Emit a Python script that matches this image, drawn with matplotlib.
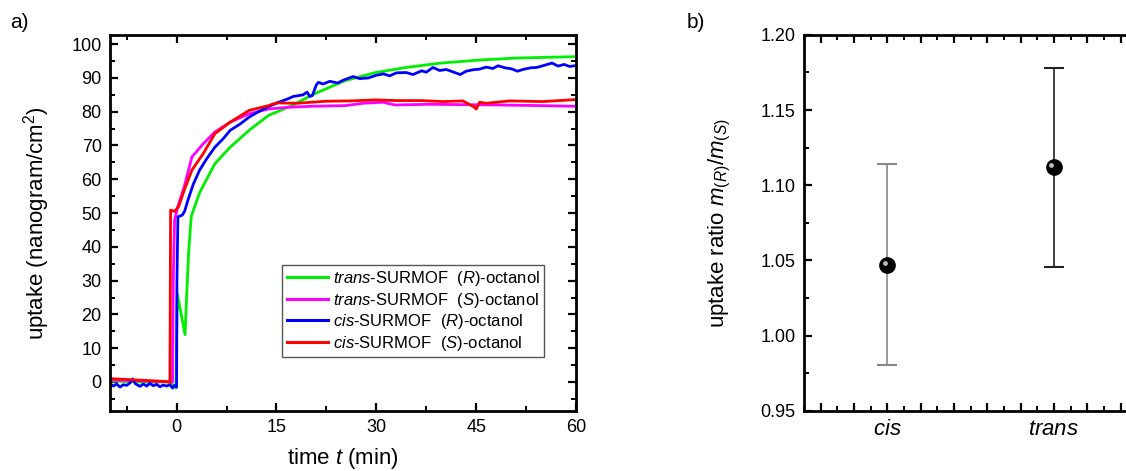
import matplotlib
matplotlib.use("Agg")
import matplotlib.pyplot as plt
import matplotlib.transforms as mtransforms
from matplotlib.ticker import MultipleLocator, FixedLocator, FixedFormatter

plt.rcParams['font.family'] = ['Liberation Sans', 'DejaVu Sans']
plt.rcParams['mathtext.fontset'] = 'custom'
plt.rcParams['mathtext.rm'] = 'Liberation Sans'
plt.rcParams['mathtext.it'] = 'Liberation Sans:italic'
plt.rcParams['mathtext.bf'] = 'Liberation Sans:bold'

# ---------------- data: panel a ----------------
labels_a = [r'$\mathit{trans}$-SURMOF  ($\mathit{R}$)-octanol',
            r'$\mathit{trans}$-SURMOF  ($\mathit{S}$)-octanol',
            r'$\mathit{cis}$-SURMOF  ($\mathit{R}$)-octanol',
            r'$\mathit{cis}$-SURMOF  ($\mathit{S}$)-octanol']
colors_a = ['#00ee00', '#ff00ff', '#0000ff', '#ff0000']

t_trans_R = [-10, -5, -1, -0.1, 0.1, 0.7, 1.27, 1.5, 1.8, 2.2, 3.45, 5.75, 8.05, 10.9,
             13.8, 17.3, 20.7, 25.3, 29.9, 34.5, 39.7, 45.5, 51.2, 60]
v_trans_R = [0.3, 0.0, 0.0, -1.8, 26, 20, 14.0, 25, 38, 49, 56, 64.6, 69.5, 74.5,
             78.9, 81.8, 85.3, 89.2, 91.6, 93.1, 94.4, 95.3, 95.9, 96.3]

t_trans_S = [-10, -6, -2, -0.6, -0.5, -0.3, 0.2, 1.15, 2.3, 4.0, 5.75, 8.05, 10.9, 13.8,
             16.7, 20, 25.3, 28, 31, 32.8, 38, 42.6, 48, 55, 60]
v_trans_S = [0.6, 0.4, 0.1, 0.0, 30, 48, 52, 57.8, 66.6, 70.5, 74, 76.9, 79.4, 80.8,
             81.3, 81.6, 81.8, 82.5, 82.8, 82.0, 82.2, 82.1, 82.0, 81.8, 81.6]

t_cis_R = [-10, -9.5, -9, -8.5, -8, -7.5, -7, -6.6, -6.2, -5.5, -5, -4.5, -4, -3.5, -3,
           -2.5, -2, -1.5, -1, -0.6, -0.3, 0.0, 0.05, 0.2, 0.86, 1.2, 1.7, 2.5, 3.45,
           4.5, 5.75, 7, 8.05, 9.5, 10.9, 12.3, 13.8, 15.2, 16.7, 17.5, 18.4, 19, 19.6,
           20.0, 20.4, 21.0, 21.3, 22, 23, 24.2, 25, 26.5, 27.5, 28.8, 30, 31.1, 32, 33,
           34.5, 35.5, 36.8, 37.5, 38.5, 39.5, 40.5, 41.5, 42.6, 43.5, 44.5, 45.5, 46.5,
           47.5, 48.3, 49.3, 50.3, 51.2, 52.2, 53.2, 54.1, 55, 56.4, 57.3, 58.2, 59, 59.8]
v_cis_R = [-0.5, -1.2, -0.6, -1.5, -0.8, -1.0, -0.3, 0.9, -0.5, -1.3, -0.6, -1.2, -0.4,
           -1.1, -0.7, -1.4, -0.9, -1.2, -0.8, -1.8, -1.0, -1.5, 30, 48.9, 49.4, 50.5,
           53.8, 58.5, 62.7, 66, 69.5, 72, 74.5, 76.3, 78.4, 80, 81.5, 82.7, 83.8, 84.5,
           84.8, 85.0, 85.8, 84.5, 84.8, 88.0, 88.7, 88.2, 89.0, 88.5, 89.3, 90.4, 89.8,
           90.0, 90.8, 91.2, 90.6, 91.5, 91.6, 91.0, 92.1, 91.7, 93.1, 92.2, 92.5, 91.8,
           91.0, 92.0, 92.4, 92.6, 93.2, 92.8, 93.6, 93.0, 92.7, 92.0, 92.6, 93.0, 93.1,
           93.6, 94.4, 93.5, 94.0, 93.4, 93.6]

t_cis_S = [-10, -8, -6, -4, -2, -1.0, -0.9, -0.3, 0.3, 1.15, 2.3, 4.0, 5.75, 8.05, 10.9,
           13.8, 15, 18, 22.4, 26, 29.9, 33, 36.8, 40, 43, 44.6, 45.0, 45.5, 46.5, 50,
           55, 60]
v_cis_S = [1.0, 0.8, 0.6, 0.4, 0.2, 0.0, 50.9, 50.5, 51.9, 56.8, 62.7, 67.6, 73.5, 76.9,
           80.4, 81.8, 82.6, 82.5, 83.1, 83.2, 83.5, 83.3, 83.3, 83.0, 83.2, 81.5, 80.8,
           82.8, 82.5, 83.2, 83.0, 83.6]

# ---------------- data: panel b ----------------
categories_b = ['cis', 'trans']
ratio_b = [1.047, 1.112]
ratio_lower = [0.9806, 1.0453]
ratio_upper = [1.1138, 1.178]

fig = plt.figure(figsize=(11.26, 4.71), dpi=100)

# ---------------- panel a ----------------
ax = fig.add_axes([0.0977, 0.128, 0.4139, 0.798])
series = [(t_trans_R, v_trans_R), (t_trans_S, v_trans_S),
          (t_cis_R, v_cis_R), (t_cis_S, v_cis_S)]
for (tt, vv), c, lab in zip(series, colors_a, labels_a):
    ax.plot(tt, vv, color=c, lw=2.0, label=lab)

ax.set_xlim(-10, 60)
ax.set_ylim(-8.5, 102.75)
ax.xaxis.set_major_locator(MultipleLocator(15))
ax.xaxis.set_minor_locator(MultipleLocator(7.5))
ax.yaxis.set_major_locator(MultipleLocator(10))
ax.yaxis.set_minor_locator(MultipleLocator(5))
ax.tick_params(which='both', direction='in', top=True, right=True, labelsize=13,
               colors='black')
ax.tick_params(which='major', length=6, width=1.6, pad=6)
ax.tick_params(which='minor', length=3.5, width=1.4)
for s in ax.spines.values():
    s.set_linewidth(2.0)
ax.set_xlabel(r'time $\mathit{t}$ (min)', fontsize=16, labelpad=7)
ax.set_ylabel(r'uptake (nanogram/cm$^2$)', fontsize=16, labelpad=14)
leg = ax.legend(loc='lower right', bbox_to_anchor=(0.932, 0.143), fontsize=12,
                frameon=True, fancybox=False, edgecolor='#555555', framealpha=1,
                handlelength=2.5, handletextpad=0.3, labelspacing=0.15,
                borderpad=0.25, borderaxespad=0)
leg.get_frame().set_linewidth(1.0)
for h in leg.get_lines():
    h.set_linewidth(2.2)

# ---------------- panel b ----------------
bx = fig.add_axes([0.714, 0.128, 0.296, 0.798])
xpos = [1, 2]
line_cols = ['#888888', '#222222']
cap_cols = ['#222222', '#888888']
for i in range(2):
    err = [[ratio_b[i] - ratio_lower[i]], [ratio_upper[i] - ratio_b[i]]]
    cont = bx.errorbar([xpos[i]], [ratio_b[i]], yerr=err, fmt='none',
                       ecolor=line_cols[i], elinewidth=1.2, capsize=7.5,
                       capthick=1.5)
    for cl in cont[1]:
        cl.set_color(cap_cols[i])
bx.plot(xpos, ratio_b, 'o', color='black', ms=11, zorder=5)
hl = mtransforms.offset_copy(bx.transData, fig=fig, x=-1.8, y=1.3, units='points')
bx.plot(xpos, ratio_b, 'o', color='#bdbdbd', ms=3.5, mec='none', zorder=6,
        transform=hl)

bx.set_xlim(0.5, 2.5)
bx.set_ylim(0.95, 1.20)
bx.yaxis.set_major_locator(MultipleLocator(0.05))
bx.yaxis.set_minor_locator(MultipleLocator(0.025))
bx.yaxis.set_major_formatter(matplotlib.ticker.FormatStrFormatter('%.2f'))
major_x = [0.6, 0.8, 1.0, 1.2, 1.4, 1.6, 1.8, 2.0, 2.2, 2.4]
bx.xaxis.set_major_locator(FixedLocator(major_x))
bx.xaxis.set_major_formatter(FixedFormatter(
    ['' if abs(m - 1) > 1e-9 and abs(m - 2) > 1e-9 else
     (r'$\mathit{' + categories_b[int(round(m)) - 1] + '}$') for m in major_x]))
bx.xaxis.set_minor_locator(MultipleLocator(0.1))
bx.tick_params(which='both', direction='in', top=True, right=True, colors='black')
bx.tick_params(axis='y', labelsize=13)
bx.tick_params(axis='x', labelsize=16)
bx.tick_params(which='major', length=6, width=1.6, pad=6)
bx.tick_params(which='minor', length=3.5, width=1.4)
for s in bx.spines.values():
    s.set_linewidth(2.0)
bx.set_ylabel(r'uptake ratio $\mathit{m}_{(\mathit{R})}/\mathit{m}_{(\mathit{S})}$',
              fontsize=16, labelpad=20)

fig.text(10 / 1126, 1 - 22 / 471, 'a)', fontsize=15, va='center', ha='left')
fig.text(687 / 1126, 1 - 22 / 471, 'b)', fontsize=15, va='center', ha='left')

fig.savefig('out.png', dpi=100)
